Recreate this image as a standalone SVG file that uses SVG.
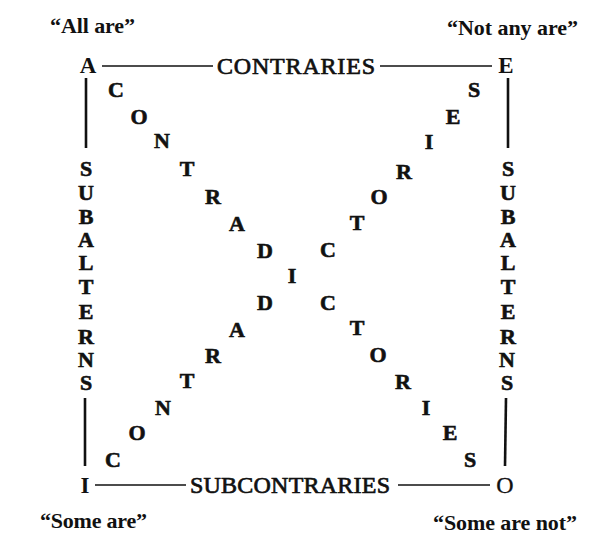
<svg xmlns="http://www.w3.org/2000/svg" width="600" height="551" viewBox="0 0 600 551">
<style>
.q{font-family:"Liberation Serif","Times New Roman",serif;font-size:22px;font-weight:bold;fill:#111}
.lab{font-family:"Liberation Serif","Times New Roman",serif;font-size:24px;fill:#111;stroke:#111;stroke-width:0.7}
.c{font-family:"Liberation Serif","Times New Roman",serif;font-size:23px;font-weight:bold;fill:#111;text-anchor:middle}
.d{font-family:"Liberation Serif","Times New Roman",serif;font-size:22px;font-weight:bold;fill:#111;text-anchor:middle;stroke:#111;stroke-width:0.6}
.h{stroke:#111;stroke-width:1.6;fill:none}
.v{stroke:#111;stroke-width:2.6;fill:none}
</style>
<rect width="600" height="551" fill="#fff"/>
<g id="connectors">
<line class="h" x1="102" y1="66" x2="213" y2="66"/>
<line class="h" x1="380" y1="66" x2="492" y2="66"/>
<line class="h" x1="95" y1="485" x2="186" y2="485"/>
<line class="h" x1="398" y1="485" x2="490" y2="485"/>
<line class="v" x1="86" y1="78" x2="86" y2="148"/>
<line class="v" x1="85" y1="398" x2="85" y2="466"/>
<line class="v" x1="508" y1="78" x2="508" y2="148"/>
<line class="v" x1="506" y1="398" x2="505" y2="466"/>
</g>
<g id="node-A">
<text class="c" x="88" y="73">A</text>
<text class="q" x="50" y="33" textLength="85">“All are”</text>
</g>
<g id="node-E">
<text class="c" x="506" y="73">E</text>
<text class="q" x="447" y="35" textLength="131">“Not any are”</text>
</g>
<g id="node-I">
<text class="c" x="85" y="493">I</text>
<text class="q" x="40" y="528" textLength="107">“Some are”</text>
</g>
<g id="node-O">
<text class="lab" x="505" y="493" text-anchor="middle" style="stroke-width:0.3">O</text>
<text class="q" x="433" y="530" textLength="144">“Some are not”</text>
</g>
<g id="label-contraries">
<text class="lab" x="217" y="74" textLength="158">CONTRARIES</text>
</g>
<g id="label-subcontraries">
<text class="lab" x="190" y="493" textLength="200">SUBCONTRARIES</text>
</g>
<g id="label-subalterns-left">
<text class="d" x="86" y="176">S</text>
<text class="d" x="86" y="200">U</text>
<text class="d" x="86" y="224">B</text>
<text class="d" x="86" y="247">A</text>
<text class="d" x="86" y="270">L</text>
<text class="d" x="86" y="294">T</text>
<text class="d" x="86" y="319">E</text>
<text class="d" x="86" y="344">R</text>
<text class="d" x="86" y="367">N</text>
<text class="d" x="86" y="390">S</text>
</g>
<g id="label-subalterns-right">
<text class="d" x="508" y="176">S</text>
<text class="d" x="508" y="200">U</text>
<text class="d" x="508" y="224">B</text>
<text class="d" x="508" y="247">A</text>
<text class="d" x="508" y="270">L</text>
<text class="d" x="508" y="294">T</text>
<text class="d" x="508" y="319">E</text>
<text class="d" x="508" y="344">R</text>
<text class="d" x="507" y="367">N</text>
<text class="d" x="507" y="390">S</text>
</g>
<g id="label-contradictories-1">
<text class="d" x="116" y="97">C</text>
<text class="d" x="139" y="124">O</text>
<text class="d" x="162" y="148">N</text>
<text class="d" x="187" y="176">T</text>
<text class="d" x="213" y="204">R</text>
<text class="d" x="237" y="231">A</text>
<text class="d" x="265" y="258">D</text>
<text class="d" x="292" y="283">I</text>
<text class="d" x="328" y="257">C</text>
<text class="d" x="357" y="230">T</text>
<text class="d" x="379" y="204">O</text>
<text class="d" x="404" y="179">R</text>
<text class="d" x="429" y="149">I</text>
<text class="d" x="453" y="124">E</text>
<text class="d" x="474" y="97">S</text>
</g>
<g id="label-contradictories-2">
<text class="d" x="113" y="467">C</text>
<text class="d" x="137" y="440">O</text>
<text class="d" x="163" y="415">N</text>
<text class="d" x="187" y="388">T</text>
<text class="d" x="213" y="363">R</text>
<text class="d" x="237" y="337">A</text>
<text class="d" x="265" y="310">D</text>
<text class="d" x="328" y="310">C</text>
<text class="d" x="357" y="335">T</text>
<text class="d" x="378" y="362">O</text>
<text class="d" x="403" y="389">R</text>
<text class="d" x="426" y="415">I</text>
<text class="d" x="450" y="440">E</text>
<text class="d" x="470" y="467">S</text>
</g>
</svg>
